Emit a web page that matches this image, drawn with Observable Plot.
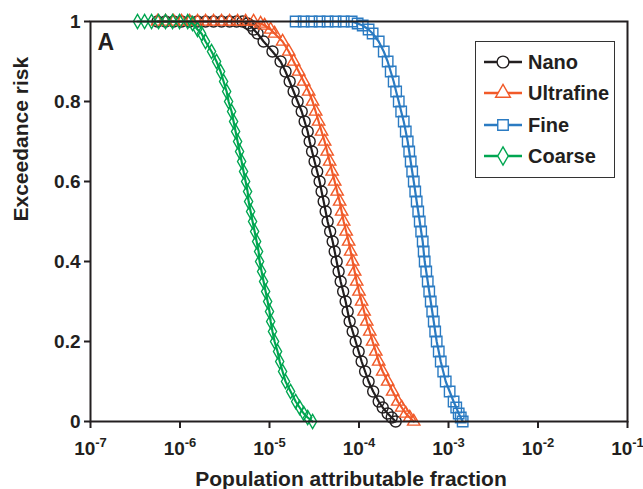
<!DOCTYPE html>
<html><head><meta charset="utf-8">
<script src="https://cdn.jsdelivr.net/npm/d3@7"></script>
<script src="https://cdn.jsdelivr.net/npm/@observablehq/plot@0.6"></script>
<style>
body{margin:0;background:#fff;}
#wrap{position:relative;width:643px;height:489px;overflow:hidden;font-family:"Liberation Sans",Arial,sans-serif;}
#legend{position:absolute;left:475px;top:41px;width:140px;height:137px;border:1.5px solid #333;background:#fff;box-sizing:border-box;}
.row{position:absolute;left:8px;height:24px;}
.row svg{position:absolute;left:0;top:0;}
.row span{position:absolute;left:44px;top:0;line-height:24px;font-size:20px;font-weight:bold;color:#231f20;white-space:nowrap;}
</style></head><body><div id="wrap"></div>
<script>
const seriesNames = ["Nano", "Ultrafine", "Fine", "Coarse"];
const seriesColors = ["#231f20", "#f15a29", "#2b7bc2", "#00a651"];
const seriesSymbols = ["circle", "triangle", "square", "diamond"];
const seriesR = [5.5, 4.6, 5.9, 4.3];

const xTicks = [1e-7, 1e-6, 1e-5, 1e-4, 1e-3, 1e-2, 1e-1];
const yTicks = [0, 0.2, 0.4, 0.6, 0.8, 1];
const xLabel = "Population attributable fraction";
const yLabel = "Exceedance risk";
const panelLabel = "A";

// Nano
const nanoX = [5.61e-7, 6.89e-7, 8.47e-7, 1.04e-6, 1.28e-6, 1.57e-6, 1.93e-6, 2.37e-6, 2.91e-6, 3.58e-6, 4.29e-6, 5.00e-6,
  5.69e-6, 6.15e-6, 6.64e-6, 7.36e-6,
  8.59e-6, 1.08e-5, 1.33e-5, 1.51e-5, 1.68e-5, 1.86e-5, 2.06e-5, 2.29e-5, 2.47e-5, 2.67e-5,
  2.81e-5, 2.99e-5, 3.19e-5, 3.41e-5, 3.63e-5, 3.82e-5, 4.03e-5, 4.24e-5, 4.46e-5, 4.76e-5,
  5.08e-5, 5.35e-5, 5.63e-5, 5.92e-5, 6.24e-5, 6.65e-5, 7.09e-5, 7.47e-5, 7.86e-5, 8.50e-5,
  9.18e-5, 9.91e-5, 1.07e-4, 1.17e-4, 1.28e-4, 1.44e-4, 1.66e-4,
  1.84e-4, 2.09e-4, 2.32e-4, 2.57e-4];
const nanoY = [1, 1, 1, 1, 1, 1, 1, 1, 1, 1, 1, 1,
  0.995, 0.99, 0.98, 0.97,
  0.95, 0.925, 0.9, 0.875, 0.85, 0.825, 0.8, 0.775, 0.75, 0.725,
  0.7, 0.675, 0.65, 0.625, 0.6, 0.575, 0.55, 0.525, 0.5, 0.475,
  0.45, 0.425, 0.4, 0.375, 0.35, 0.325, 0.3, 0.275, 0.25, 0.225,
  0.2, 0.175, 0.15, 0.125, 0.1, 0.075, 0.05,
  0.035, 0.02, 0.01, 0];

// Ultrafine
const ultrafineX = [5.61e-7, 6.89e-7, 8.47e-7, 1.04e-6, 1.28e-6, 1.57e-6, 1.93e-6, 2.37e-6, 2.91e-6, 3.58e-6, 4.40e-6, 5.41e-6, 6.64e-6,
  7.95e-6, 8.82e-6, 1.03e-5, 1.14e-5,
  1.40e-5, 1.64e-5, 1.86e-5, 2.12e-5, 2.41e-5, 2.74e-5, 3.03e-5, 3.28e-5, 3.54e-5, 3.82e-5,
  4.13e-5, 4.41e-5, 4.70e-5, 5.01e-5, 5.35e-5, 5.70e-5, 6.08e-5, 6.40e-5, 6.74e-5, 7.19e-5,
  7.66e-5, 8.07e-5, 8.50e-5, 8.94e-5, 9.42e-5, 1.00e-4, 1.07e-4, 1.14e-4, 1.22e-4, 1.32e-4,
  1.42e-4, 1.54e-4, 1.66e-4, 1.84e-4, 2.09e-4, 2.38e-4, 2.71e-4,
  3.00e-4, 3.33e-4, 3.69e-4, 4.09e-4];
const ultrafineY = [1, 1, 1, 1, 1, 1, 1, 1, 1, 1, 1, 1, 1,
  0.995, 0.99, 0.98, 0.97,
  0.95, 0.925, 0.9, 0.875, 0.85, 0.825, 0.8, 0.775, 0.75, 0.725,
  0.7, 0.675, 0.65, 0.625, 0.6, 0.575, 0.55, 0.525, 0.5, 0.475,
  0.45, 0.425, 0.4, 0.375, 0.35, 0.325, 0.3, 0.275, 0.25, 0.225,
  0.2, 0.175, 0.15, 0.125, 0.1, 0.075, 0.05,
  0.035, 0.02, 0.01, 0];

// Fine
const fineX = [1.96e-5, 2.41e-5, 2.96e-5, 3.63e-5, 4.46e-5, 5.48e-5, 6.74e-5, 8.28e-5,
  9.66e-5, 1.10e-4, 1.28e-4, 1.42e-4,
  1.66e-4, 1.89e-4, 2.09e-4, 2.26e-4, 2.44e-4, 2.60e-4, 2.78e-4, 2.96e-4, 3.16e-4, 3.33e-4,
  3.50e-4, 3.64e-4, 3.78e-4, 3.93e-4, 4.09e-4, 4.25e-4, 4.41e-4, 4.59e-4, 4.77e-4, 4.95e-4,
  5.15e-4, 5.28e-4, 5.42e-4, 5.64e-4, 5.86e-4, 6.09e-4, 6.33e-4, 6.58e-4, 6.84e-4, 7.10e-4,
  7.38e-4, 7.78e-4, 8.19e-4, 8.73e-4, 9.31e-4, 1.03e-3, 1.14e-3,
  1.22e-3, 1.30e-3, 1.37e-3, 1.44e-3];
const fineY = [1, 1, 1, 1, 1, 1, 1, 1,
  0.995, 0.99, 0.98, 0.97,
  0.95, 0.925, 0.9, 0.875, 0.85, 0.825, 0.8, 0.775, 0.75, 0.725,
  0.7, 0.675, 0.65, 0.625, 0.6, 0.575, 0.55, 0.525, 0.5, 0.475,
  0.45, 0.425, 0.4, 0.375, 0.35, 0.325, 0.3, 0.275, 0.25, 0.225,
  0.2, 0.175, 0.15, 0.125, 0.1, 0.075, 0.05,
  0.035, 0.02, 0.01, 0];

// Coarse
const coarseX = [3.35e-7, 4.02e-7, 4.81e-7, 5.76e-7, 6.89e-7, 8.26e-7, 9.89e-7, 1.22e-6,
  1.38e-6, 1.57e-6, 1.74e-6,
  1.93e-6, 2.25e-6, 2.56e-6, 2.84e-6, 3.07e-6, 3.32e-6, 3.49e-6, 3.77e-6, 3.97e-6, 4.18e-6,
  4.40e-6, 4.63e-6, 4.88e-6, 5.13e-6, 5.41e-6, 5.69e-6, 5.84e-6, 6.15e-6, 6.47e-6, 6.82e-6,
  7.18e-6, 7.55e-6, 7.75e-6, 8.16e-6, 8.59e-6, 9.05e-6, 9.53e-6, 1.00e-5, 1.03e-5, 1.08e-5,
  1.14e-5, 1.23e-5, 1.30e-5, 1.40e-5, 1.51e-5, 1.72e-5, 1.96e-5,
  2.17e-5, 2.41e-5, 2.67e-5, 3.03e-5];
const coarseY = [1, 1, 1, 1, 1, 1, 1, 1,
  0.995, 0.98, 0.97,
  0.95, 0.925, 0.9, 0.875, 0.85, 0.825, 0.8, 0.775, 0.75, 0.725,
  0.7, 0.675, 0.65, 0.625, 0.6, 0.575, 0.55, 0.525, 0.5, 0.475,
  0.45, 0.425, 0.4, 0.375, 0.35, 0.325, 0.3, 0.275, 0.25, 0.225,
  0.2, 0.175, 0.15, 0.125, 0.1, 0.075, 0.05,
  0.035, 0.02, 0.01, 0];

const seriesX = [nanoX, ultrafineX, fineX, coarseX];
const seriesY = [nanoY, ultrafineY, fineY, coarseY];

const FONT = '"Liberation Sans", Arial, sans-serif';
const INK = "#231f20";

const seriesMarks = [];
seriesNames.forEach((name, i) => {
  const rows = seriesX[i].map((x, j) => ({series: name, x, y: seriesY[i][j]}));
  seriesMarks.push(Plot.line(rows, {x: "x", y: "y", stroke: seriesColors[i], strokeWidth: 2.2}));
  seriesMarks.push(Plot.dot(rows, {x: "x", y: "y", stroke: seriesColors[i], fill: "none", symbol: seriesSymbols[i], r: seriesR[i], strokeWidth: 1.4}));
});

const chart = Plot.plot({
  width: 643, height: 489,
  marginLeft: 90, marginRight: 16, marginTop: 21, marginBottom: 68,
  style: {fontFamily: FONT, fontWeight: "bold", fontSize: "19px", color: INK, background: "white"},
  x: {type: "log", domain: [1e-7, 1e-1]},
  y: {domain: [0, 1]},
  marks: [
    Plot.axisX({ticks: xTicks, tickFormat: d => "10^" + Math.round(Math.log10(d)), tickSize: 7, tickPadding: 13, label: null, strokeWidth: 2, fontSize: 19}),
    Plot.axisY({ticks: yTicks, tickFormat: d => (d === 0 || d === 1) ? String(d) : d.toFixed(1), tickSize: 6, tickPadding: 4, label: null, strokeWidth: 2, fontSize: 19}),
    ...seriesMarks,
    Plot.frame({stroke: INK, strokeWidth: 2}),
    Plot.text([panelLabel], {text: d => d, frameAnchor: "top-left", dx: 7, dy: 12, lineAnchor: "top", fontSize: 23, fontWeight: "bold", fill: INK}),
    Plot.text([xLabel], {text: d => d, frameAnchor: "bottom", dx: -8, dy: 50, lineAnchor: "top", fontSize: 21, fontWeight: "bold", fill: INK}),
    Plot.text([yLabel], {text: d => d, frameAnchor: "left", dx: -77, rotate: -90, lineAnchor: "top", fontSize: 21, fontWeight: "bold", fill: INK})
  ]
});

// superscript exponents on the x tick labels
const NS = "http://www.w3.org/2000/svg";
d3.select(chart).selectAll('g[aria-label="x-axis tick label"] text').each(function() {
  const parts = this.textContent.split("^");
  if (parts.length !== 2) return;
  this.textContent = "";
  const b = document.createElementNS(NS, "tspan");
  b.textContent = parts[0];
  const s = document.createElementNS(NS, "tspan");
  s.textContent = parts[1];
  s.setAttribute("font-size", "13");
  s.setAttribute("dy", "-8");
  this.appendChild(b);
  this.appendChild(s);
});

const wrap = document.getElementById("wrap");
wrap.appendChild(chart);

// legend
const legend = document.createElement("div");
legend.id = "legend";
const rowTops = [20, 51, 83, 114];
seriesNames.forEach((name, i) => {
  const row = document.createElement("div");
  row.className = "row";
  row.style.top = (rowTops[i] - 12) + "px";
  const svg = d3.create("svg").attr("width", 40).attr("height", 24);
  svg.append("line").attr("x1", 0).attr("x2", 38).attr("y1", 12).attr("y2", 12)
    .attr("stroke", seriesColors[i]).attr("stroke-width", 2.5);
  const typ = {circle: d3.symbolCircle, triangle: d3.symbolTriangle, square: d3.symbolSquare, diamond: d3.symbolDiamond}[seriesSymbols[i]];
  const sz = {circle: 110, triangle: 95, square: 110, diamond: 95}[seriesSymbols[i]];
  svg.append("path").attr("d", d3.symbol(typ, sz)()).attr("transform", "translate(19,12)")
    .attr("fill", "white").attr("stroke", seriesColors[i]).attr("stroke-width", 1.4);
  row.appendChild(svg.node());
  const span = document.createElement("span");
  span.textContent = name;
  row.appendChild(span);
  legend.appendChild(row);
});
wrap.appendChild(legend);
</script>
</body></html>
